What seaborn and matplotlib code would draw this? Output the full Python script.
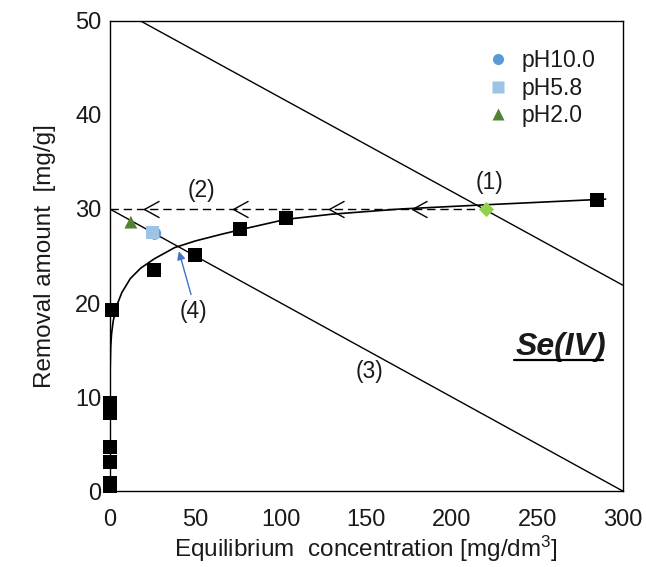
import numpy as np
import pandas as pd
import matplotlib
matplotlib.use("Agg")
import matplotlib.pyplot as plt
from matplotlib.path import Path
from matplotlib.lines import Line2D
import seaborn as sns

# ---------------- data ----------------
# measured removal amounts (black squares)
conc_main = [0, 0, 0, 0, 0, 0, 0, 1, 26, 50, 76, 103, 285]
q_main = [0.5, 0.9, 3.1, 4.7, 8.3, 8.9, 9.4, 19.3, 23.5, 25.1, 27.9, 29.0, 31.0]
err_main = [0, 0, 0, 0, 0, 0, 0.5, 0.6, 0, 0, 0, 0, 0]

# pH series
ph_labels = ["pH10.0", "pH5.8", "pH2.0"]
ph_conc = [26.3, 24.9, 12.3]
ph_q = [27.4, 27.5, 28.6]

# operating point (1)
op_conc = [220]
op_q = [30.0]

# fitted isotherm curve
fit_conc = [0, 0.05, 0.2, 0.5, 1, 2, 4, 7, 12, 18, 26, 38, 50, 65, 80, 103, 130, 170, 220, 290]
fit_q = [0, 9, 13, 15.3, 16.7, 18.1, 19.7, 21.1, 22.6, 23.7, 24.7, 25.9, 26.6, 27.3, 27.95,
         28.9, 29.45, 30.0, 30.45, 31.05]

# operating lines
line1_conc = [18, 300]
line1_q = [50.0, 21.9]
line2_conc = [0, 220]
line2_q = [30, 30]
line3_conc = [0, 300]
line3_q = [30, 0]
arrow2_conc = [20, 72, 128, 177]
arrow2_q = [30, 30, 30, 30]

x_ticks = [0, 50, 100, 150, 200, 250, 300]
y_ticks = [0, 10, 20, 30, 40, 50]

# ---------------- style ----------------
sns.set_theme(style="white")
plt.rcParams["font.family"] = ["Liberation Sans", "DejaVu Sans"]
plt.rcParams["mathtext.default"] = "regular"
FS_TICK = 17
FS_LAB = 17.5
FS_ANN = 16.5
TXT = "#1a1a1a"

fig = plt.figure(figsize=(6.46, 5.67), dpi=100)
ax = fig.add_axes([0.170, 0.134, 0.794, 0.829])

# lines
sns.lineplot(x=line1_conc, y=line1_q, ax=ax, color="black", lw=1.0, estimator=None, sort=False)
sns.lineplot(x=line3_conc, y=line3_q, ax=ax, color="black", lw=1.0, estimator=None, sort=False)
sns.lineplot(x=line2_conc, y=line2_q, ax=ax, color="black", lw=1.0, estimator=None, sort=False,
             linestyle=(0, (6, 3.5)))
sns.lineplot(x=fit_conc, y=fit_q, ax=ax, color="black", lw=1.2, estimator=None, sort=False)

# open chevron arrowheads on line (2)
chev = Path([(2, 1.1), (0, 0), (2, -1.1)], [Path.MOVETO, Path.LINETO, Path.LINETO])
ax.plot(arrow2_conc, arrow2_q, ls="none", marker=chev, ms=21.6, mfc="none",
        mec="black", mew=1.0)

# measured points
ax.errorbar(conc_main, q_main, yerr=err_main, fmt="none", ecolor="black", elinewidth=1,
            capsize=4, zorder=3, clip_on=False)
sns.scatterplot(x=conc_main, y=q_main, ax=ax, marker="s", s=100, color="black",
                edgecolor="black", linewidth=0, zorder=4, clip_on=False)

# pH points
ph_df = pd.DataFrame({"c": ph_conc, "q": ph_q, "ph": ph_labels})
ph_colors = {"pH10.0": "#5B9BD5", "pH5.8": "#9DC3E6", "pH2.0": "#548235"}
ph_markers = {"pH10.0": "o", "pH5.8": "s", "pH2.0": "^"}
sns.scatterplot(data=ph_df, x="c", y="q", hue="ph", style="ph", palette=ph_colors,
                markers=ph_markers, s=85, linewidth=0, ax=ax, zorder=5, legend=False)

# operating point diamond
sns.scatterplot(x=op_conc, y=op_q, ax=ax, marker="D", s=60, color="#92D050",
                linewidth=0, zorder=5)

# legend
handles = [Line2D([], [], ls="none", marker=ph_markers[l], color=ph_colors[l], ms=8,
                  mec="none") for l in ph_labels]
leg = ax.legend(handles, ph_labels, loc="upper left", bbox_to_anchor=(0.712, 0.96),
                frameon=False, fontsize=FS_ANN, handletextpad=0.45, labelspacing=0.2,
                handlelength=1.2, borderaxespad=0)
for t in leg.get_texts():
    t.set_color(TXT)

# annotations
ax.text(222, 32.8, "(1)", fontsize=FS_ANN, ha="center", va="center", color=TXT)
ax.text(53.6, 32.0, "(2)", fontsize=FS_ANN, ha="center", va="center", color=TXT)
ax.text(152, 12.7, "(3)", fontsize=FS_ANN, ha="center", va="center", color=TXT)
ax.text(48.7, 19.1, "(4)", fontsize=FS_ANN, ha="center", va="center", color=TXT)
ax.annotate("", xy=(40.4, 25.5), xytext=(47.5, 20.9),
            arrowprops=dict(arrowstyle="-|>", color="#4472C4", lw=1.0,
                            mutation_scale=12, shrinkA=0, shrinkB=0))
se = ax.text(290.5, 14.5, "Se(IV)", fontsize=23, fontweight="bold", fontstyle="italic",
             ha="right", va="baseline", color=TXT)

# axes
ax.set_xlim(0, 300)
ax.set_ylim(0, 50)
ax.set_xticks(x_ticks)
ax.set_yticks(y_ticks)
ax.set_yticks(np.arange(5, 50, 10), minor=True)
ax.tick_params(axis="both", which="both", direction="in", length=5, width=1,
               color="black", labelsize=FS_TICK, labelcolor=TXT, top=False, right=False)
ax.tick_params(axis="x", pad=13)
ax.tick_params(axis="y", pad=6)
ax.set_xlabel("Equilibrium  concentration [mg/dm$^{3}$]", fontsize=FS_LAB, labelpad=2,
              color=TXT)
ax.set_ylabel("Removal amount  [mg/g]", fontsize=FS_LAB, labelpad=14, color=TXT)
for s in ax.spines.values():
    s.set_color("black")
    s.set_linewidth(1.0)
    s.set_visible(True)

# underline for Se(IV)
fig.canvas.draw()
bb = se.get_window_extent(fig.canvas.get_renderer())
fig.add_artist(Line2D([bb.x0 - 2, bb.x1 - 4], [bb.y0 + 2, bb.y0 + 2], color="black", lw=1.6,
                      transform=None))

fig.savefig("out.png", dpi=100)
